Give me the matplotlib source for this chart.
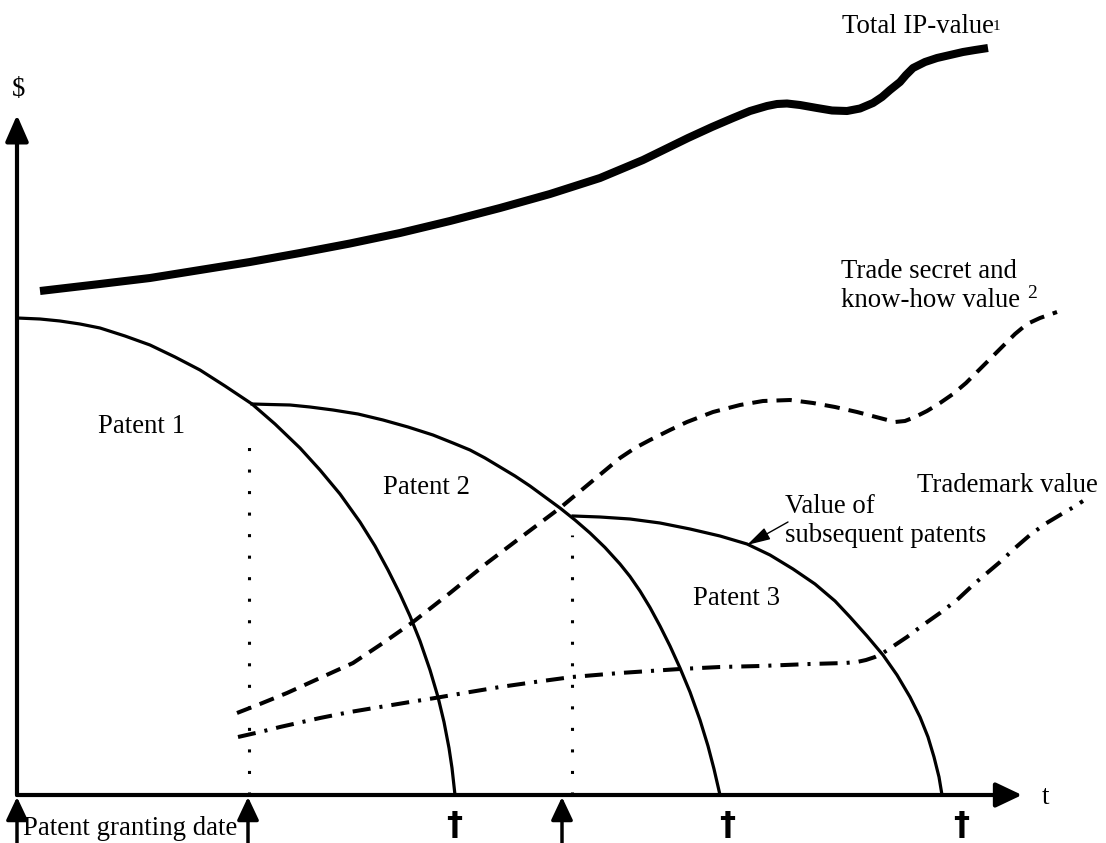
import matplotlib
matplotlib.use("Agg")
import matplotlib.pyplot as plt

plt.rcParams['lines.scale_dashes'] = False
plt.rcParams['font.family'] = ['Liberation Serif', 'DejaVu Serif']

# ---- data (pixel-read values; t = time units from origin, v = value units) ----
P0X, P0Y = 17, 795  # origin used when reading values off the picture

patent1_px = [17, 40, 60, 80, 100, 125, 150, 175, 200, 225, 252, 275, 300, 320, 340, 360, 375, 388, 400, 410, 420, 430, 438, 444, 449, 452, 455]
patent1_py = [318, 319, 321, 324, 328, 336, 345, 357, 370, 386, 404, 424, 448, 470, 494, 522, 546, 570, 594, 616, 641, 670, 697, 722, 748, 768, 795]

patent2_px = [252, 270, 290, 310, 333, 358, 383, 408, 433, 453, 470, 485, 500, 515, 530, 545, 560, 575, 590, 605, 620, 630, 640, 650, 660, 670, 680, 690, 700, 708, 714, 720]
patent2_py = [404, 404.5, 405, 407, 410, 414, 420, 427, 435, 443, 450, 458, 467, 476, 486, 497, 508, 520, 533, 547.5, 564, 576.5, 591, 607.5, 626, 646, 668, 692, 720, 746, 769, 795]

patent3_px = [573, 600, 630, 660, 690, 720, 747, 770, 793, 815, 835, 850, 867, 883, 897, 910, 920, 928, 934, 939, 942]
patent3_py = [516, 517, 519, 523, 529, 536, 544, 555, 569, 584, 601, 617, 636, 655, 675, 697, 717, 737, 757, 777, 795]

total_px = [40, 70, 100, 150, 200, 250, 300, 350, 400, 450, 500, 550, 600, 643, 688, 712, 733, 750, 767, 777, 787, 800, 817, 832, 847, 860, 873, 882, 890, 900, 906, 913, 925, 937, 950, 963, 975, 988]
total_py = [291, 287.5, 284, 278, 270, 262, 253, 243.5, 233, 221, 208, 194, 178, 160, 138, 127, 118, 111, 106, 104, 103.5, 105, 108, 110.5, 111, 108.5, 103, 97, 90, 82, 75, 68, 62, 58, 55, 52, 50, 48]

secret_px = [237, 260, 287, 320, 353, 383, 413, 450, 487, 520, 560, 590, 620, 635, 650, 670, 687, 713, 740, 763, 790, 813, 835, 857, 876, 895, 905, 915, 927, 940, 953, 966, 978, 990, 1003, 1015, 1027, 1040, 1057]
secret_py = [713, 704, 693, 678, 663, 643, 622, 593, 563, 538, 508, 483, 458, 448, 440, 430, 422, 412, 405, 401, 400, 403, 407, 412, 417, 422, 421, 417, 411, 403, 394, 383, 371, 359, 346, 334, 324, 318, 312]

trademark_px = [238, 260, 280, 300, 320, 350, 380, 410, 435, 470, 500, 535, 572, 620, 680, 720, 760, 810, 845, 857, 866, 875, 883, 895, 907, 923, 940, 957, 973, 987, 1000, 1015, 1030, 1045, 1060, 1072, 1083]
trademark_py = [737, 732, 727, 722.5, 718, 712, 707, 702, 698, 692, 687, 682, 677, 673, 669, 667, 666, 664, 663, 662, 660, 657, 653, 645, 637, 625, 613, 600, 585, 573, 562, 548, 535, 524, 515, 508, 501]

grant_dates = [0, 231, 545]
expiry_dates = [437, 710, 944]
dotted_t = [232, 555]
dotted_top = [365, 260]

patent_labels = ["Patent 1", "Patent 2", "Patent 3"]
patent_label_t = [81, 366, 676]
patent_label_v = [362, 301, 190]


def tv(px, py):
    return [x - P0X for x in px], [P0Y - y for y in py]


# ---- figure ----
fig = plt.figure(figsize=(11.06, 8.43), dpi=100)
ax = fig.add_axes([0, 0, 1, 1])
ax.set_xlim(-17, 1089)
ax.set_ylim(-48, 795)
ax.axis('off')

FS = 19.3

# axes
ax.annotate('', xy=(0, 680), xytext=(0, 0),
            arrowprops=dict(arrowstyle='-|>,head_length=0.8,head_width=0.35',
                            mutation_scale=20, lw=3, color='k', shrinkA=0, shrinkB=0))
ax.annotate('', xy=(1005, 0), xytext=(0, 0),
            arrowprops=dict(arrowstyle='-|>,head_length=0.8,head_width=0.38',
                            mutation_scale=20, lw=3, color='k', shrinkA=0, shrinkB=0))
ax.text(2, 705, '$', fontsize=FS, ha='center', va='center')
ax.text(1028, -3, 't', fontsize=FS, ha='center', va='center')

# dotted verticals
for t, top in zip(dotted_t, dotted_top):
    ax.plot([t, t], [0, top], color='k', lw=2.2, dashes=(2.2, 13.3), dash_capstyle='butt')

# curves
for px, py in [(patent1_px, patent1_py), (patent2_px, patent2_py), (patent3_px, patent3_py)]:
    x, y = tv(px, py)
    ax.plot(x, y, color='k', lw=2.3, solid_joinstyle='round')
x, y = tv(total_px, total_py)
ax.plot(x, y, color='k', lw=5.8, solid_joinstyle='round', solid_capstyle='butt')
x, y = tv(secret_px, secret_py)
ax.plot(x, y, color='k', lw=2.9, dashes=(11, 6.5), dash_capstyle='butt', dash_joinstyle='round')
x, y = tv(trademark_px, trademark_py)
ax.plot(x, y, color='k', lw=2.9, dashes=(13, 6.5, 2.2, 6.5), dash_capstyle='butt', dash_joinstyle='round')

# grant arrows and expiry marks
for t in grant_dates:
    ax.annotate('', xy=(t, -2), xytext=(t, -50),
                arrowprops=dict(arrowstyle='-|>,head_length=0.7,head_width=0.33',
                                mutation_scale=20, lw=2.5, color='k', shrinkA=0, shrinkB=0),
                annotation_clip=False)
for t in expiry_dates:
    ax.text(t, -30, '\u2020', fontsize=23, fontweight='bold', family='DejaVu Sans',
            ha='center', va='center')

ax.text(6, -40, 'Patent granting date', fontsize=FS, ha='left', va='baseline')

for lab, t, v in zip(patent_labels, patent_label_t, patent_label_v):
    ax.text(t, v, lab, fontsize=FS, ha='left', va='baseline')

ax.text(825, 762, 'Total IP-value', fontsize=FS, ha='left', va='baseline')
ax.text(976, 765, '1', fontsize=11, ha='left', va='baseline')
ax.text(824, 517, 'Trade secret and', fontsize=FS, ha='left', va='baseline')
ax.text(824, 488, 'know-how value', fontsize=FS, ha='left', va='baseline')
ax.text(1010, 497, '2', fontsize=14, ha='left', va='baseline')
ax.text(900, 303, 'Trademark value', fontsize=FS, ha='left', va='baseline')
ax.text(768, 282, 'Value of', fontsize=FS, ha='left', va='baseline')
ax.text(768, 253, 'subsequent patents', fontsize=FS, ha='left', va='baseline')
ax.annotate('', xy=(730, 250), xytext=(771, 273),
            arrowprops=dict(arrowstyle='-|>,head_length=0.8,head_width=0.22',
                            mutation_scale=18, lw=1, color='k', shrinkA=0, shrinkB=0))

fig.savefig('out.png', dpi=100)
